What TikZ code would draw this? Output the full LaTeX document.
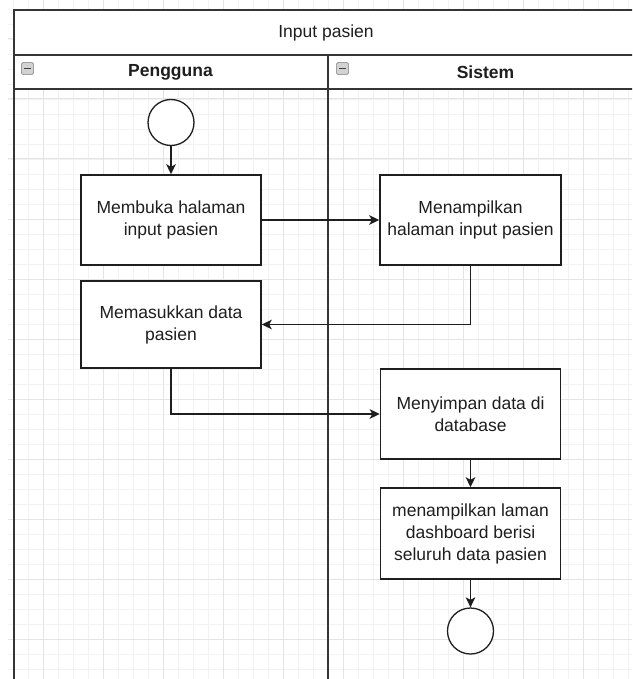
\documentclass[tikz,border=0pt]{standalone}
\usepackage{fontspec}
\setmainfont{Liberation Sans}
\usetikzlibrary{arrows.meta}
\definecolor{ink}{HTML}{1E1E1E}
\definecolor{gridminor}{HTML}{F2F2F2}
\definecolor{gridmajor}{HTML}{E4E4E4}
\begin{document}
\begin{tikzpicture}[x=1pt, y=-1pt,
  txt/.style={font=\fontsize{17.5}{22}\selectfont, text=ink},
  stepbox/.style={draw=ink, line width=1.5pt, fill=white, align=center,
    inner sep=0pt, txt},
  terminal/.style={circle, draw=ink, line width=1.3pt, fill=white,
    minimum size=46pt, inner sep=0pt},
  flow/.style={draw=ink, line width=1.5pt,
    -{Stealth[length=10pt, width=9.5pt, inset=2.5pt]}},
  laneline/.style={draw=ink!90, line width=2pt},
  minusicon/.style={draw=gray!75, fill=gray!35, rounded corners=1.5pt,
    line width=0.8pt, minimum size=12pt, inner sep=0pt}]
\useasboundingbox (0,0) rectangle (632,679);
\clip (0,0) rectangle (632,679);
\fill[white] (0,0) rectangle (632,679);

% background grid: fine lines every 15, heavier every 60
\foreach \i in {0,...,41} { \draw[gridminor, line width=0.9pt] ({13+15*\i},0) -- ({13+15*\i},679); }
\foreach \i in {0,...,44} { \draw[gridminor, line width=0.9pt] (8,{9+15*\i}) -- (632,{9+15*\i}); }
\foreach \i in {0,...,9} { \draw[gridmajor, line width=1pt] ({43+60*\i},0) -- ({43+60*\i},679); }
\foreach \i in {0,...,10} { \draw[gridmajor, line width=1pt] (8,{39+60*\i}) -- (632,{39+60*\i}); }

% pool with title and lane headers
\fill[white] (14,10) rectangle (641,89);
\draw[laneline] (14,690) -- (14,10) -- (641,10) -- (641,690);
\draw[laneline] (14,55) -- (641,55);
\draw[laneline] (14,89) -- (641,89);
\draw[laneline] (328,55) -- (328,690);
\node[txt] (pool) at (326,32.5) {Input pasien};
\node[txt, font=\fontsize{17.5}{22}\selectfont\bfseries] (laneA) at (170.5,72) {Pengguna};
\node[txt, font=\fontsize{17.5}{22}\selectfont\bfseries] (laneB) at (485.5,72) {Sistem};
\node[minusicon] (iconA) at (27.5,68.5) {};
\node[minusicon] (iconB) at (342.5,68.5) {};
\draw[ink!85, line width=1.3pt] ([xshift=-3.5pt]iconA.center) -- ([xshift=3.5pt]iconA.center);
\draw[ink!85, line width=1.3pt] ([xshift=-3.5pt]iconB.center) -- ([xshift=3.5pt]iconB.center);

% activities
\node[terminal] (start) at (171,122.5) {};
\node[stepbox, minimum width=180pt, minimum height=90pt] (open) at (171,220) {Membuka halaman\\input pasien};
\node[stepbox, minimum width=180pt, minimum height=87pt] (enter) at (171,324.5) {Memasukkan data\\pasien};
\node[stepbox, minimum width=181pt, minimum height=90pt] (show) at (470.5,220) {Menampilkan\\halaman input pasien};
\node[stepbox, minimum width=180pt, minimum height=90pt] (save) at (470.5,414) {Menyimpan data di\\database};
\node[stepbox, minimum width=180pt, minimum height=91pt] (dash) at (470.5,533.5) {menampilkan laman\\dashboard berisi\\seluruh data pasien};
\node[terminal] (stop) at (470.5,631) {};

% control flow
\draw[flow] (start) -- (open);
\draw[flow] (open) -- (show);
\draw[flow] (show.south) |- (enter.east);
\draw[flow] (enter.south) |- (save.west);
\draw[flow] (save) -- (dash);
\draw[flow] (dash) -- (stop);
\end{tikzpicture}
\end{document}
